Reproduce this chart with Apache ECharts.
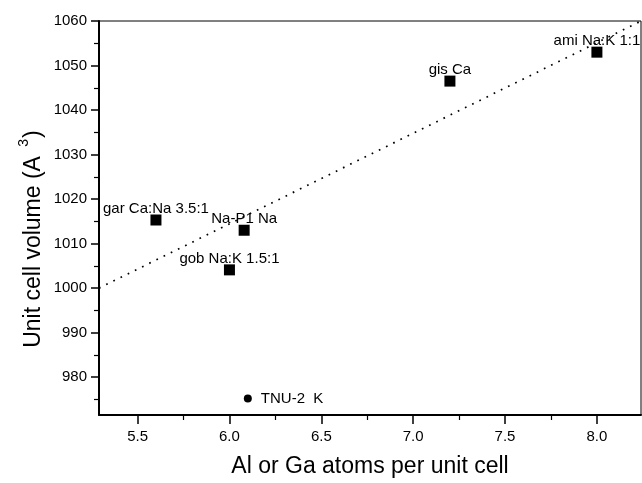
<!DOCTYPE html>
<html>
<head>
<meta charset="utf-8">
<title>Unit cell volume vs Al/Ga atoms</title>
<script src="https://cdn.jsdelivr.net/npm/echarts@6/dist/echarts.min.js"></script>
<style>
  html, body { margin: 0; padding: 0; background: #fff; }
  #chart { width: 642px; height: 483px; }
</style>
</head>
<body>
<div id="chart"></div>
<script>
// Framework samples: name, Al/Ga atoms per unit cell, unit cell volume
const sampleNames = ['gar Ca:Na 3.5:1', 'Na-P1 Na', 'gob Na:K 1.5:1', 'gis Ca', 'ami Na:K 1:1'];
const atomsPerCell = [5.60, 6.08, 6.00, 7.20, 8.00];
const cellVolume = [1015.3, 1013.0, 1004.1, 1046.5, 1053.0];

// TNU-2 sample
const tnuName = 'TNU-2  K';
const tnuAtoms = [6.10];
const tnuVolume = [975.2];

// Dotted trend line end points
const trendAtoms = [5.29, 8.24];
const trendVolume = [1000.0, 1060.0];

// Axis extents and tick positions
const xRange = [5.29, 8.24];
const yRange = [971.5, 1060];
const xTicks = [5.5, 6.0, 6.5, 7.0, 7.5, 8.0];
const xMinorTicks = [5.75, 6.25, 6.75, 7.25, 7.75];
const yTicks = [980, 990, 1000, 1010, 1020, 1030, 1040, 1050, 1060];
const yMinorTicks = [975, 985, 995, 1005, 1015, 1025, 1035, 1045, 1055];

const FONT = 'Liberation Sans, Arial, sans-serif';
const INK = '#000';

const chart = echarts.init(document.getElementById('chart'), null, { renderer: 'canvas' });

const labelFont = { fontFamily: FONT, fontSize: 15, color: INK };

chart.setOption({
  animation: false,
  backgroundColor: '#fff',
  grid: {
    left: 99, right: 1, top: 21, bottom: 64,
    show: true, borderColor: INK, borderWidth: 1, backgroundColor: 'transparent'
  },
  xAxis: [
    {
      type: 'value', min: xRange[0], max: xRange[1],
      name: 'Al or Ga atoms per unit cell',
      nameLocation: 'middle', nameGap: 40,
      nameTextStyle: { fontFamily: FONT, fontSize: 23, color: INK },
      axisLine: { show: true, onZero: false, lineStyle: { color: INK, width: 2 } },
      axisTick: { show: true, inside: false, length: 9, customValues: xTicks, lineStyle: { color: INK, width: 1.5 } },
      axisLabel: {
        customValues: xTicks, margin: 14,
        fontFamily: FONT, fontSize: 15, color: INK,
        formatter: v => Number(v).toFixed(1)
      },
      splitLine: { show: false }
    },
    {
      type: 'value', min: xRange[0], max: xRange[1], position: 'bottom',
      axisLine: { show: false },
      axisTick: { show: true, inside: false, length: 5, customValues: xMinorTicks, lineStyle: { color: INK, width: 1.2 } },
      axisLabel: { show: false },
      splitLine: { show: false }
    }
  ],
  yAxis: [
    {
      type: 'value', min: yRange[0], max: yRange[1],
      axisLine: { show: true, onZero: false, lineStyle: { color: INK, width: 2 } },
      axisTick: { show: true, inside: false, length: 8, customValues: yTicks, lineStyle: { color: INK, width: 1.5 } },
      axisLabel: {
        customValues: yTicks, margin: 12,
        fontFamily: FONT, fontSize: 15, color: INK,
        formatter: v => String(Math.round(v))
      },
      splitLine: { show: false }
    },
    {
      type: 'value', min: yRange[0], max: yRange[1], position: 'left',
      axisLine: { show: false },
      axisTick: { show: true, inside: false, length: 5, customValues: yMinorTicks, lineStyle: { color: INK, width: 1.2 } },
      axisLabel: { show: false },
      splitLine: { show: false }
    }
  ],
  graphic: [
    {
      type: 'text',
      x: 31, y: 239,
      rotation: Math.PI / 2,
      silent: true,
      style: {
        text: '{n|Unit cell volume (A }{s|3}{n|)}',
        align: 'center',
        verticalAlign: 'middle',
        fill: INK,
        rich: {
          n: { fontFamily: FONT, fontSize: 23, fill: INK, lineHeight: 28, verticalAlign: 'bottom' },
          s: { fontFamily: FONT, fontSize: 14, fill: INK, lineHeight: 28, verticalAlign: 'top', padding: [0, 1, 0, 3] }
        }
      }
    }
  ],
  series: [
    {
      name: 'trend',
      type: 'line',
      data: trendAtoms.map((x, i) => [x, trendVolume[i]]),
      symbol: 'none',
      clip: true,
      lineStyle: { color: INK, width: 1.7, type: [1.7, 6.3] },
      silent: true,
      z: 1
    },
    {
      name: 'samples',
      type: 'scatter',
      data: atomsPerCell.map((x, i) => ({ value: [x, cellVolume[i]], name: sampleNames[i] })),
      symbol: 'rect',
      symbolSize: 11,
      itemStyle: { color: INK, opacity: 1 },
      label: {
        show: true, position: 'top', distance: -2,
        formatter: p => p.name,
        ...labelFont
      },
      z: 3
    },
    {
      name: 'TNU-2',
      type: 'scatter',
      data: tnuAtoms.map((x, i) => ({ value: [x, tnuVolume[i]], name: tnuName })),
      symbol: 'circle',
      symbolSize: 8,
      itemStyle: { color: INK, opacity: 1 },
      label: {
        show: true, position: 'right', distance: 9,
        formatter: p => p.name,
        ...labelFont
      },
      z: 3
    }
  ]
});
</script>
</body>
</html>
